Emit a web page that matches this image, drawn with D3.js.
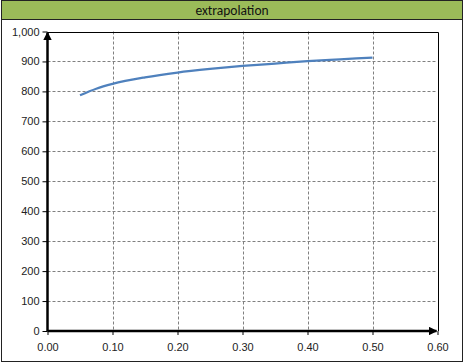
<!DOCTYPE html>
<html>
<head>
<meta charset="utf-8">
<script src="https://cdn.jsdelivr.net/npm/d3@7"></script>
<style>
  body { margin: 0; background: #fff; }
  svg { display: block; font-family: Carlito, "Open Sans", "Liberation Sans", sans-serif; }
  .grid line { stroke: #808080; stroke-dasharray: 3,2; stroke-width: 1; }
  .axis text { font-size: 11px; fill: #222; }
</style>
</head>
<body>
<div id="chart"></div>
<script>
// data
var xs = [0.05, 0.075, 0.10, 0.15, 0.20, 0.25, 0.30, 0.35, 0.40, 0.45, 0.50]
var ys = [787, 809, 825, 847, 863, 875, 885, 893, 901, 907, 913]
var xTicks = [0, 0.1, 0.2, 0.3, 0.4, 0.5, 0.6]
var yTicks = [0, 100, 200, 300, 400, 500, 600, 700, 800, 900, 1000]
var title = "extrapolation"

var width = 465, height = 364
var svg = d3.select("#chart").append("svg")
    .attr("width", width)
    .attr("height", height)

// outer frame + title bar
svg.append("rect")
    .attr("x", 1.5).attr("y", 0.5)
    .attr("width", 461).attr("height", 361)
    .style("fill", "#fff").style("stroke", "#222")
svg.append("rect")
    .attr("x", 1.5).attr("y", 0.5)
    .attr("width", 461).attr("height", 19)
    .style("fill", "#9bbb59").style("stroke", "#222")
svg.append("text")
    .attr("x", 232).attr("y", 14.5)
    .attr("text-anchor", "middle")
    .style("font-size", "13.5px")
    .style("fill", "#111")
    .text(title)

var xScale = d3.scaleLinear().domain([0, 0.6]).range([47.5, 437.5])
var yScale = d3.scaleLinear().domain([0, 1000]).range([331, 31.5])

// grid
var grid = svg.append("g").attr("class", "grid")
grid.selectAll(".gx")
    .data(xTicks.filter(d => d > 0 && d < 0.6)).enter()
    .append("line")
    .attr("x1", d => Math.round(xScale(d)) + 0.5)
    .attr("x2", d => Math.round(xScale(d)) + 0.5)
    .attr("y1", yScale(1000)).attr("y2", yScale(0))
grid.selectAll(".gy")
    .data(yTicks.filter(d => d > 0 && d < 1000)).enter()
    .append("line")
    .attr("y1", d => Math.round(yScale(d)) + 0.5)
    .attr("y2", d => Math.round(yScale(d)) + 0.5)
    .attr("x1", xScale(0)).attr("x2", xScale(0.6))

// plot border top/right
svg.append("path")
    .attr("d", `M${xScale(0)},${Math.round(yScale(1000)) + 0.5}H${Math.round(xScale(0.6)) + 0.5}V${yScale(0)}`)
    .style("fill", "none").style("stroke", "#000").style("stroke-width", 1)

// axes
var xAxis = d3.axisBottom(xScale).tickValues(xTicks).tickFormat(d3.format(".2f")).tickSize(4).tickSizeOuter(0)
var yAxis = d3.axisLeft(yScale).tickValues(yTicks).tickFormat(d3.format(",")).tickSize(5).tickSizeOuter(0)

svg.append("g")
    .attr("class", "x axis")
    .attr("transform", `translate(0, ${yScale(0)})`)
    .call(xAxis)
    .call(g => g.select(".domain").remove())
    .call(g => g.selectAll("line").style("stroke", "#000"))
    .selectAll("text").attr("dy", "1.2em")

svg.append("g")
    .attr("class", "y axis")
    .attr("transform", `translate(${xScale(0)}, 0)`)
    .call(yAxis)
    .call(g => g.select(".domain").remove())
    .call(g => g.selectAll("line").style("stroke", "#000"))
    .selectAll("text").attr("x", -8)

// thick axis lines with arrows
var defs = svg.append("defs")
defs.append("marker")
    .attr("id", "arrow")
    .attr("viewBox", "0 0 10 10")
    .attr("refX", 9).attr("refY", 5)
    .attr("markerWidth", 3.5).attr("markerHeight", 3.5)
    .attr("orient", "auto")
    .append("path").attr("d", "M0,0L10,5L0,10z").style("fill", "#000")

svg.append("line")
    .attr("x1", xScale(0)).attr("y1", yScale(0))
    .attr("x2", xScale(0.6) - 1).attr("y2", yScale(0))
    .style("stroke", "#000").style("stroke-width", 2.5)
    .attr("marker-end", "url(#arrow)")
svg.append("line")
    .attr("x1", xScale(0)).attr("y1", yScale(0))
    .attr("x2", xScale(0)).attr("y2", yScale(1000) + 1)
    .style("stroke", "#000").style("stroke-width", 2.5)
    .attr("marker-end", "url(#arrow)")

// curve
var line = d3.line()
    .x((d, i) => xScale(xs[i]))
    .y(d => yScale(d))
    .curve(d3.curveMonotoneX)

svg.append("path")
    .datum(ys)
    .attr("d", line)
    .style("fill", "none")
    .style("stroke", "#4f81bd")
    .style("stroke-width", 2.25)
</script>
</body>
</html>
